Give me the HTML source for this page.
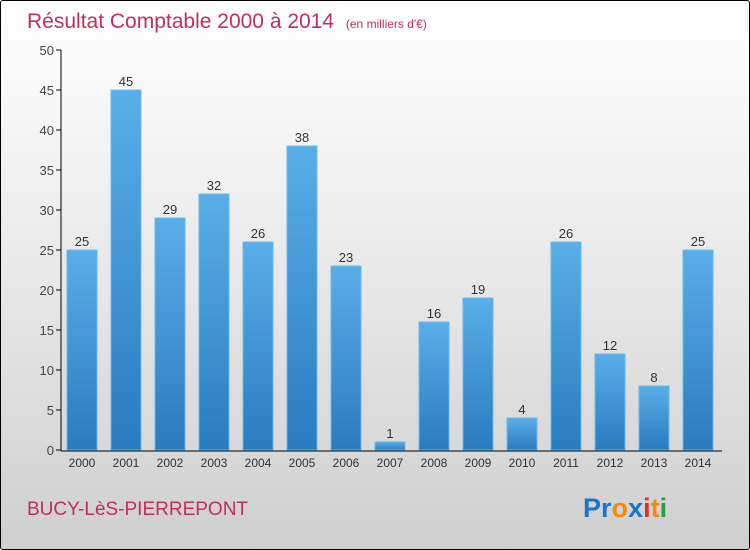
<!DOCTYPE html>
<html><head><meta charset="utf-8"><style>
body{margin:0}
#c{width:748px;height:548px;border:1px solid #000;border-radius:3px;background:linear-gradient(#ffffff,#f2f2f2 30%,#cfcfcf);position:relative;overflow:hidden;font-family:"Liberation Sans",sans-serif}
</style></head><body>
<div id="c">
<svg id="s" width="748" height="548">
<defs><linearGradient id="g" x1="0" y1="0" x2="0" y2="1"><stop offset="0" stop-color="#5aaee8"/><stop offset="1" stop-color="#2a7bbd"/></linearGradient></defs>
<text x="26" y="27" font-size="21" fill="#c0305a">Résultat Comptable 2000 à 2014 <tspan font-size="12" dx="6">(en milliers d'€)</tspan></text>
<text x="26" y="514" font-size="19" fill="#c0305a">BUCY-LèS-PIERREPONT</text>
<text x="582" y="516" font-size="27" font-weight="bold"><tspan fill="#1a75cc">Pr</tspan><tspan fill="#f08a10">o</tspan><tspan fill="#1a75cc">x</tspan><tspan fill="#e03020">i</tspan><tspan fill="#f08a10">t</tspan><tspan fill="#20a040">i</tspan></text>
</svg></div>
<script>
const years=["2000","2001","2002","2003","2004","2005","2006","2007","2008","2009","2010","2011","2012","2013","2014"];
const values=[25,45,29,32,26,38,23,1,16,19,4,26,12,8,25];
const yTicks=[0,5,10,15,20,25,30,35,40,45,50];
const s=document.getElementById('s'),NS='http://www.w3.org/2000/svg';
const y=v=>449-v*8, x=i=>81+i*44;
function mk(t,a,p){const e=document.createElementNS(NS,t);for(const k in a)e.setAttribute(k,a[k]);(p||s).appendChild(e);return e;}
yTicks.forEach(t=>{
 const l=mk('line',{x1:55,x2:60,y1:y(t),y2:y(t),stroke:'#000'});
 
 
 const tx=mk('text',{x:53,y:y(t)+5,'text-anchor':'end','font-size':13,fill:'#444'});tx.textContent=t;
 
 
});
values.forEach((v,i)=>{
 const r=mk('rect',{x:x(i)-15,y:y(v),width:30,height:v*8,fill:'url(#g)',stroke:'#6bb8ee','stroke-width':1});
 
 
 const t=mk('text',{x:x(i),y:y(v)-4,'text-anchor':'middle','font-size':13,fill:'#333'});t.textContent=v;
 
 
 const xl=mk('text',{x:x(i),y:466,'text-anchor':'middle','font-size':12,fill:'#333'});xl.textContent=years[i];
 
 
});
const ya=mk('line',{x1:60,x2:60,y1:49,y2:450,stroke:'#000'});


const xa=mk('line',{x1:60,x2:721,y1:450,y2:450,stroke:'#000'});


</script>
</body></html>
